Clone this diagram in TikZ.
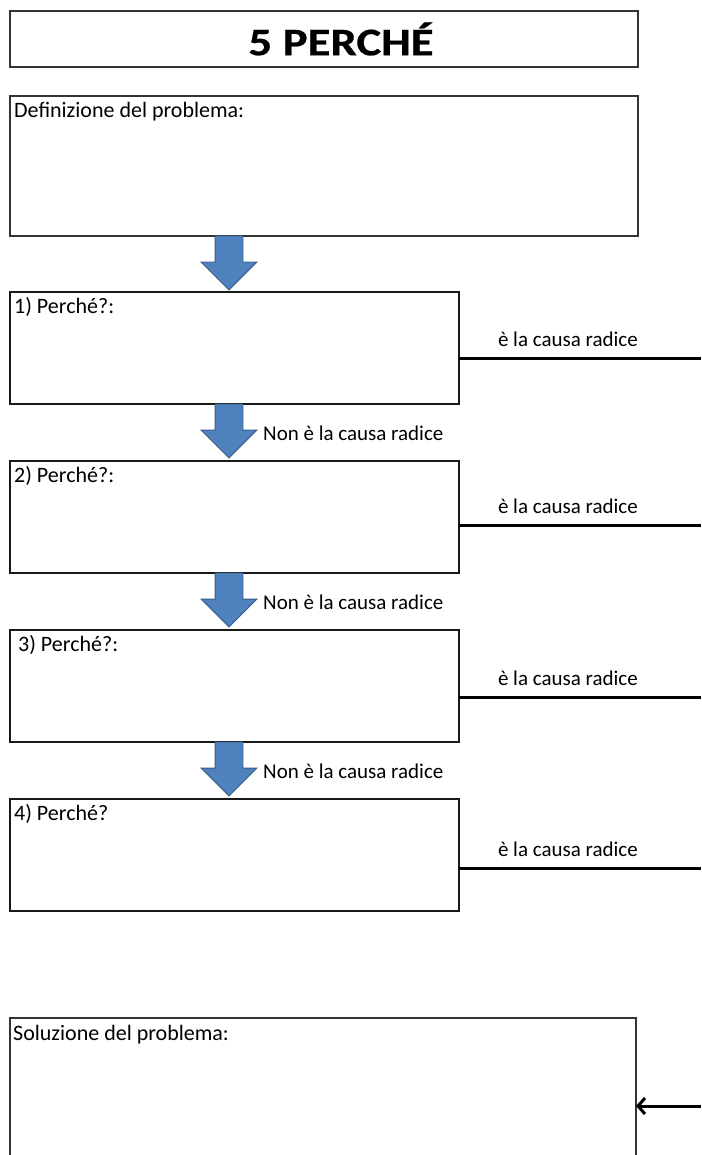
\documentclass[tikz,border=0pt]{standalone}
\usepackage{fontspec}
\setmainfont{Carlito}
\newfontfamily\titlefont[FakeStretch=1.2, FakeBold=0.6]{Carlito}
\usepackage{tikz}
\usetikzlibrary{positioning, shapes.arrows, arrows, arrows.meta}
\definecolor{arrowblue}{RGB}{79,129,189}
\definecolor{arrowedge}{RGB}{56,93,138}
\tikzset{
    bigbox/.style={rectangle, draw=black!80, line width=1.5pt, minimum width=628pt, minimum height=140pt, inner sep=0pt, outer sep=0pt},
    whybox/.style={rectangle, draw=black!90, line width=1.8pt, minimum width=449pt, minimum height=112pt, inner sep=0pt, outer sep=0pt},
    boxtext/.style={anchor=base west, inner sep=0pt, font=\fontsize{22}{26}\selectfont},
    bigarrow/.style={single arrow, draw=arrowedge, fill=arrowblue, line width=0.8pt, rotate=-90, anchor=tail, inner sep=13.5pt, outer sep=0pt, minimum height=54pt, single arrow head extend=14pt},
    causa/.style={above, inner xsep=0pt, inner ysep=10pt, font=\fontsize{21}{25}\selectfont},
    notcausa/.style={anchor=base west, inner sep=0pt, font=\fontsize{21}{25}\selectfont},
    rootline/.style={line width=3pt, black},
}

\begin{document}
\begin{tikzpicture}[x=1pt, y=-1pt]
        \clip (0,0) rectangle (701,1155);
        \node [bigbox, minimum height=56pt] (title) at (324,39) {\titlefont\bfseries\fontsize{39}{47}\selectfont\hspace*{34pt}5 PERCHÉ};
        \node [bigbox] (def) [below=29pt of title] {};
        \node [whybox] (b1) [below=56pt of def.south west, anchor=north west] {};
        \node [whybox] (b2) [below=57pt of b1.south west, anchor=north west] {};
        \node [whybox] (b3) [below=57pt of b2.south west, anchor=north west] {};
        \node [whybox] (b4) [below=57pt of b3.south west, anchor=north west] {};
        \node [bigbox, minimum width=626pt, minimum height=160pt] (sol) [below=107pt of b4.south west, anchor=north west] {};
        \node [boxtext] (tdef) at ([xshift=4pt, yshift=-22pt]def.north west) {Definizione del problema:};
        \node [boxtext] (t1) at ([xshift=4pt, yshift=-21pt]b1.north west) {1) Perché?:};
        \node [boxtext] (t2) at ([xshift=4pt, yshift=-21pt]b2.north west) {2) Perché?:};
        \node [boxtext] (t3) at ([xshift=8pt, yshift=-21pt]b3.north west) {3) Perché?:};
        \node [boxtext] (t4) at ([xshift=4pt, yshift=-21pt]b4.north west) {4) Perché?};
        \node [boxtext] (tsol) at ([xshift=3pt, yshift=-22pt]sol.north west) {Soluzione del problema:};
        \node [bigarrow] (a1) at ([xshift=219pt]def.south west) {};
        \node [bigarrow] (a2) at ([xshift=219pt]b1.south west) {};
        \node [bigarrow] (a3) at ([xshift=219pt]b2.south west) {};
        \node [bigarrow] (a4) at ([xshift=219pt]b3.south west) {};
        \node [notcausa] (n2) at ([xshift=34pt, yshift=18pt]a2.tip) {Non è la causa radice};
        \node [notcausa] (n3) at ([xshift=34pt, yshift=18pt]a3.tip) {Non è la causa radice};
        \node [notcausa] (n4) at ([xshift=34pt, yshift=18pt]a4.tip) {Non è la causa radice};
        \coordinate (r1) at (701,358);
        \coordinate (r2) at (701,525);
        \coordinate (r3) at (701,697);
        \coordinate (r4) at (701,868);
        \coordinate (r5) at (701,1106);
        \draw [rootline] (b1.east |- r1) -- node [causa, pos=.45] (c1) {è la causa radice} (r1);
        \draw [rootline] (b2.east |- r2) -- node [causa, pos=.45] (c2) {è la causa radice} (r2);
        \draw [rootline] (b3.east |- r3) -- node [causa, pos=.45] (c3) {è la causa radice} (r3);
        \draw [rootline] (b4.east |- r4) -- node [causa, pos=.45] (c4) {è la causa radice} (r4);
        \draw [rootline, -{Straight Barb[length=7pt, width=16pt]}] (r5) -- (sol.east |- r5);
    \end{tikzpicture}
\end{document}
